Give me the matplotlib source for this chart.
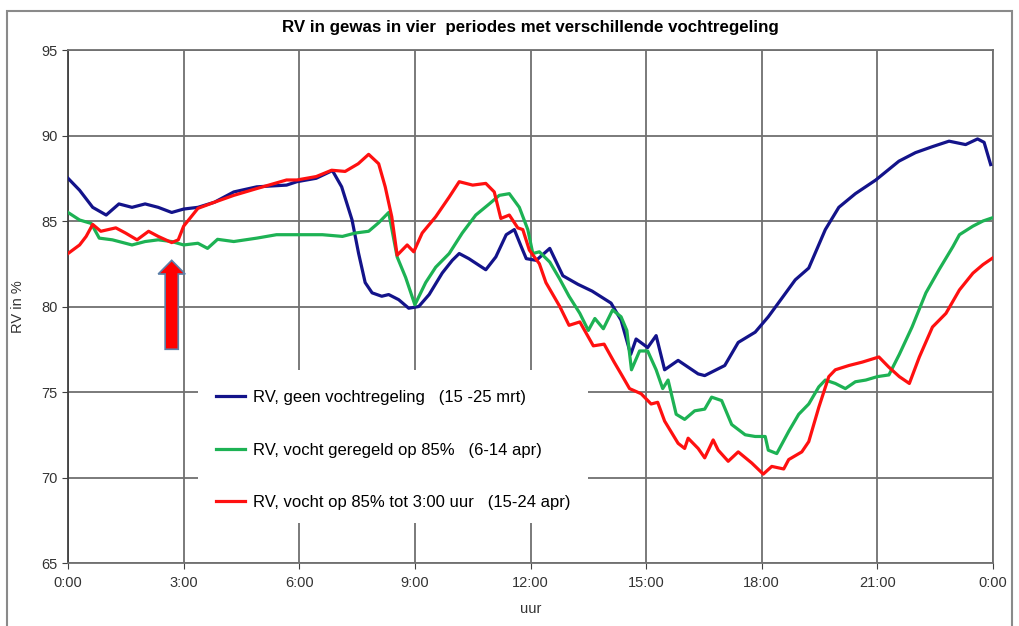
import matplotlib
matplotlib.use("Agg")
import matplotlib.pyplot as plt
from matplotlib.patches import FancyArrow, Rectangle

plt.rcParams["font.family"] = ["Liberation Sans", "DejaVu Sans"]

# hours since midnight, RV in %
blue_h = [0, 0.3, 0.64, 0.99, 1.32, 1.66, 2.0, 2.34, 2.69, 3.0, 3.37, 3.8, 4.3, 4.9,
          5.67, 5.94, 6.44, 6.86, 7.1, 7.37, 7.54, 7.71, 7.89, 8.14, 8.32, 8.58, 8.84,
          9.1, 9.37, 9.71, 9.97, 10.15, 10.4, 10.84, 11.1, 11.37, 11.58, 11.76, 11.89,
          12.15, 12.5, 12.84, 13.23, 13.6, 13.74, 14.09, 14.35, 14.6, 14.74, 15.04,
          15.26, 15.48, 15.83, 16.35, 16.52, 17.04, 17.39, 17.83, 18.17, 18.43, 18.87,
          19.22, 19.65, 20.0, 20.43, 20.96, 21.56, 21.99, 22.43, 22.86, 23.29, 23.6,
          23.77, 23.94]
blue_rv = [87.5, 86.8, 85.8, 85.35, 86.0, 85.8, 86.0, 85.8, 85.5, 85.7, 85.8, 86.1, 86.7,
           87.0, 87.1, 87.3, 87.5, 87.95, 87.0, 85.06, 83.1, 81.4, 80.8, 80.6, 80.7, 80.4,
           79.9, 80.0, 80.7, 81.96, 82.7, 83.1, 82.8, 82.15, 82.9, 84.2, 84.5, 83.5, 82.8,
           82.7, 83.4, 81.8, 81.3, 80.9, 80.7, 80.2, 79.2, 77.2, 78.1, 77.6, 78.3, 76.3,
           76.85, 76.06, 75.96, 76.55, 77.9, 78.5, 79.4, 80.2, 81.56, 82.25, 84.5, 85.8,
           86.6, 87.4, 88.5, 89.0, 89.35, 89.67, 89.47, 89.8, 89.6, 88.3]

green_h = [0, 0.3, 0.6, 0.81, 1.15, 1.66, 2.0, 2.34, 2.69, 3.0, 3.37, 3.62, 3.88, 4.3,
           4.9, 5.41, 5.94, 6.6, 7.12, 7.46, 7.8, 8.06, 8.32, 8.54, 8.76, 9.0, 9.28, 9.54,
           9.89, 10.23, 10.58, 10.93, 11.19, 11.45, 11.71, 11.93, 12.06, 12.23, 12.5,
           12.76, 13.0, 13.28, 13.5, 13.67, 13.89, 14.13, 14.35, 14.5, 14.62, 14.83,
           15.04, 15.26, 15.43, 15.57, 15.78, 16.0, 16.26, 16.52, 16.7, 16.96, 17.22,
           17.57, 17.83, 18.09, 18.17, 18.39, 18.7, 18.96, 19.22, 19.48, 19.65, 19.91,
           20.17, 20.43, 20.7, 21.0, 21.3, 21.57, 21.9, 22.26, 22.6, 22.96, 23.13, 23.48,
           23.74, 24.0]
green_rv = [85.5, 85.06, 84.86, 84.0, 83.9, 83.6, 83.8, 83.9, 83.8, 83.6, 83.7, 83.4,
            83.93, 83.8, 84.0, 84.2, 84.2, 84.2, 84.1, 84.3, 84.4, 84.9, 85.5, 82.9, 81.7,
            80.1, 81.4, 82.3, 83.1, 84.3, 85.35, 86.0, 86.5, 86.6, 85.8, 84.5, 83.1, 83.2,
            82.6, 81.6, 80.6, 79.6, 78.6, 79.3, 78.7, 79.8, 79.4, 78.6, 76.3, 77.4, 77.4,
            76.3, 75.2, 75.7, 73.7, 73.4, 73.9, 74.0, 74.7, 74.5, 73.1, 72.5, 72.4, 72.4,
            71.6, 71.4, 72.7, 73.7, 74.3, 75.3, 75.7, 75.5, 75.2, 75.6, 75.7, 75.9, 76.0,
            77.2, 78.8, 80.8, 82.15, 83.5, 84.2, 84.7, 85.0, 85.2]

red_h = [0, 0.3, 0.47, 0.64, 0.85, 1.24, 1.49, 1.79, 2.09, 2.34, 2.69, 2.86, 3.0, 3.37,
         3.8, 4.3, 4.9, 5.67, 5.94, 6.44, 6.84, 7.19, 7.53, 7.8, 8.06, 8.23, 8.4, 8.54,
         8.8, 8.97, 9.19, 9.54, 9.89, 10.15, 10.5, 10.84, 11.06, 11.23, 11.45, 11.67,
         11.8, 11.97, 12.23, 12.4, 12.76, 13.0, 13.28, 13.63, 13.91, 14.17, 14.35, 14.57,
         14.87, 15.13, 15.3, 15.48, 15.83, 16.0, 16.09, 16.35, 16.52, 16.74, 16.87,
         17.13, 17.39, 17.74, 18.04, 18.26, 18.57, 18.7, 19.04, 19.22, 19.48, 19.74,
         19.91, 20.26, 20.61, 21.04, 21.3, 21.57, 21.83, 22.09, 22.43, 22.78, 23.13,
         23.48, 23.74, 24.0]
red_rv = [83.1, 83.6, 84.1, 84.8, 84.4, 84.6, 84.3, 83.9, 84.4, 84.1, 83.74, 83.9, 84.7,
          85.74, 86.1, 86.5, 86.9, 87.4, 87.4, 87.6, 87.97, 87.9, 88.35, 88.9, 88.35, 87.0,
          85.25, 83.0, 83.6, 83.2, 84.3, 85.25, 86.4, 87.3, 87.1, 87.2, 86.7, 85.15, 85.35,
          84.6, 84.5, 83.3, 82.5, 81.4, 80.0, 78.9, 79.1, 77.7, 77.8, 76.75, 76.06, 75.2,
          74.9, 74.3, 74.4, 73.3, 72.0, 71.7, 72.3, 71.7, 71.15, 72.2, 71.6, 70.95, 71.5,
          70.85, 70.2, 70.65, 70.5, 71.05, 71.5, 72.1, 74.1, 75.9, 76.3, 76.55, 76.75,
          77.05, 76.45, 75.9, 75.5, 77.05, 78.8, 79.6, 80.97, 81.95, 82.45, 82.85]

labels = ["RV, geen vochtregeling   (15 -25 mrt)",
          "RV, vocht geregeld op 85%   (6-14 apr)",
          "RV, vocht op 85% tot 3:00 uur   (15-24 apr)"]
colors = ["#13138a", "#1db254", "#ff1010"]

x_ticks = [0, 3, 6, 9, 12, 15, 18, 21, 24]
x_ticklabels = ["0:00", "3:00", "6:00", "9:00", "12:00", "15:00", "18:00", "21:00", "0:00"]
y_ticks = [65, 70, 75, 80, 85, 90, 95]

fig = plt.figure(figsize=(10.2, 6.26), dpi=100)
ax = fig.add_axes([0.0667, 0.1006, 0.9068, 0.8195])

# outer chart frame
fig.patches.append(Rectangle((0.007, -0.05), 0.985, 1.033, transform=fig.transFigure,
                             fill=False, ec="#8a8a8a", lw=1.5))

for h, v, c, lab in zip([blue_h, green_h, red_h], [blue_rv, green_rv, red_rv], colors, labels):
    ax.plot(h, v, color=c, lw=2.3, label=lab, zorder=3)

ax.set_xlim(0, 24)
ax.set_ylim(65, 95)
ax.set_xticks(x_ticks)
ax.set_xticklabels(x_ticklabels)
ax.set_yticks(y_ticks)
ax.grid(True, color="#707070", lw=1.3, zorder=1)
ax.set_axisbelow(True)
for s in ax.spines.values():
    s.set_color("#707070")
    s.set_linewidth(1.3)
ax.spines["left"].set_color("#404040")
ax.tick_params(axis="both", direction="out", length=4, color="#404040",
               labelsize=10.5, labelcolor="#333333")
ax.tick_params(axis="x", pad=5)

ax.set_title("RV in gewas in vier  periodes met verschillende vochtregeling",
             fontsize=12.2, fontweight="bold", pad=13)
ax.set_xlabel("uur", fontsize=10.5, color="#333333", labelpad=9)
ax.set_ylabel("RV in %", fontsize=10.5, color="#333333", labelpad=12)

# white box behind the legend hides the grid
ax.add_patch(Rectangle((0.1405, 0.078), 0.4215, 0.298, transform=ax.transAxes,
                       fc="white", ec="none", zorder=2))
ax.legend(loc="upper left", bbox_to_anchor=(0.16, 0.337), frameon=False,
          fontsize=12, handlelength=1.75, handletextpad=0.45, labelspacing=2.25,
          borderpad=0, borderaxespad=0)

# red arrow marking 3:00
ax.add_patch(FancyArrow(2.69, 77.5, 0, 5.2, width=0.34, head_width=0.7,
                        head_length=0.8, length_includes_head=True,
                        fc="#ff0000", ec="#5b7fa8", lw=1.2, zorder=4))

fig.savefig("out.png", dpi=100)
